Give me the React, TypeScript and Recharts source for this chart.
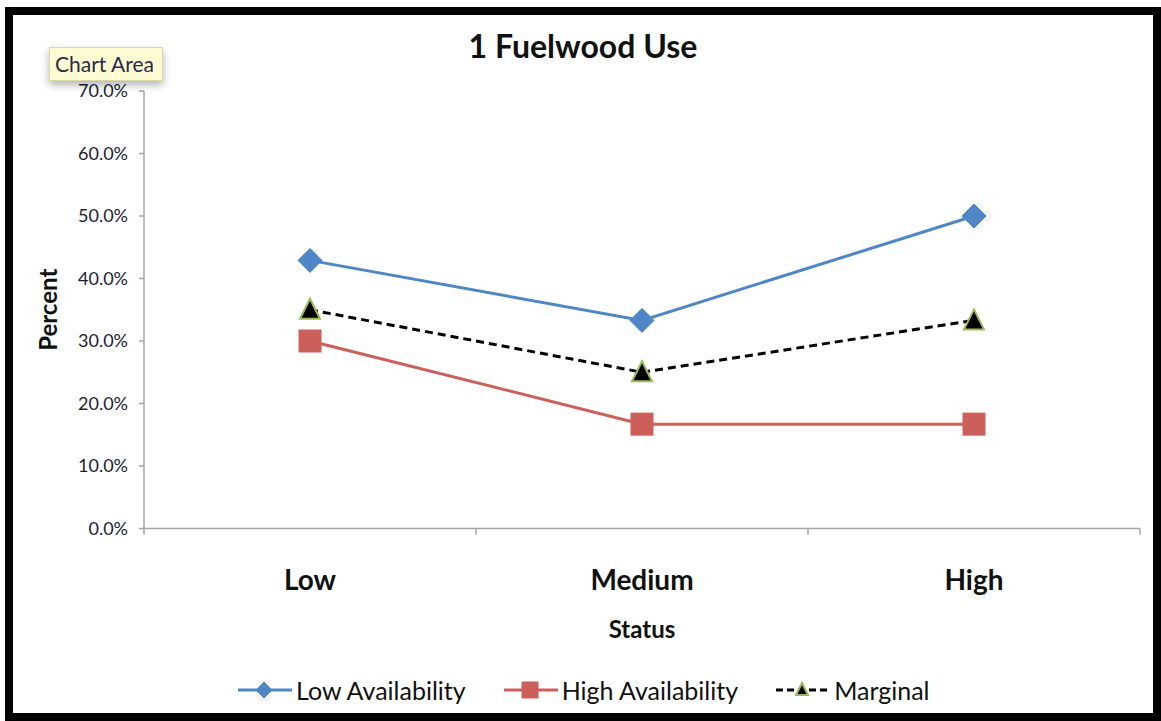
import React from 'react';
import { LineChart, Line, XAxis, YAxis } from 'recharts';

const categories = ['Low', 'Medium', 'High'];
const lowAvailability = [42.9, 33.3, 50.0];
const highAvailability = [30.0, 16.7, 16.7];
const marginal = [35.0, 25.0, 33.3];
const yTicks = [0, 10, 20, 30, 40, 50, 60, 70];

const BLUE = '#4f86c6';
const RED = '#cd5f5a';
const GREEN = '#9bbb59';
const FONT = 'Lato, "Open Sans", sans-serif';

// categories sit at band centres (i + 0.5) so the axis can tick at band edges
const data = categories.map((name, i) => ({
  pos: i + 0.5,
  name,
  low: lowAvailability[i],
  high: highAvailability[i],
  marginal: marginal[i],
}));

const xTicks = [0, 0.5, 1, 1.5, 2, 2.5, 3];

const Diamond = ({ cx, cy, s = 12 }: any) => (
  <polygon points={`${cx},${cy - s} ${cx + s},${cy} ${cx},${cy + s} ${cx - s},${cy}`} fill={BLUE} stroke={BLUE} strokeWidth={1} strokeLinejoin="round" />
);

const Square = ({ cx, cy, s = 11 }: any) => (
  <rect x={cx - s} y={cy - s} width={s * 2} height={s * 2} fill={RED} stroke={RED} strokeWidth={1} />
);

const Triangle = ({ cx, cy, s = 10 }: any) => (
  <polygon points={`${cx},${cy - s - 1} ${cx + s},${cy + s - 1} ${cx - s},${cy + s - 1}`} fill="#000" stroke={GREEN} strokeWidth={2} strokeLinejoin="miter" />
);

const XTick = ({ x, y, payload }: any) => {
  const v = payload.value;
  if (Number.isInteger(v)) {
    return <line x1={x} y1={y} x2={x} y2={y + 6} stroke="#a6a6a6" strokeWidth={1.5} />;
  }
  const label = categories[Math.floor(v)];
  return (
    <text x={x} y={y + 61} textAnchor="middle" fontFamily={FONT} fontWeight={700} fontSize={28} fill="#111">
      {label}
    </text>
  );
};

const legendItems = [
  { name: 'Low Availability', color: BLUE, dash: undefined, Marker: Diamond, size: 8 },
  { name: 'High Availability', color: RED, dash: undefined, Marker: Square, size: 8 },
  { name: 'Marginal', color: '#000', dash: '7 4', Marker: Triangle, size: 6 },
];

export default function App() {
  return (
    <div style={{ position: 'absolute', left: 0, top: 0, width: 1161, height: 721, background: '#fff', overflow: 'hidden' }}>
      {/* black frame */}
      <div style={{ position: 'absolute', left: 5, top: 7, width: 1156, height: 714, border: '8px solid #000', boxSizing: 'border-box' }} />

      <div style={{ position: 'absolute', left: 0, top: 26, width: 1166, textAlign: 'center', fontFamily: FONT, fontWeight: 700, fontSize: 32, color: '#111' }}>
        1 Fuelwood Use
      </div>

      <div style={{ position: 'absolute', left: 0, top: 0 }}>
        <LineChart width={1161} height={721} data={data} margin={{ top: 91, right: 21, bottom: 92.5, left: 0 }}>
          <YAxis
            width={144}
            domain={[0, 70]}
            ticks={yTicks}
            interval={0}
            tickFormatter={(v: number) => `${v.toFixed(1)}%`}
            tick={{ fontFamily: FONT, fontSize: 18, fill: '#1d1d33' }}
            tickSize={5}
            tickMargin={11}
            axisLine={{ stroke: '#a6a6a6', strokeWidth: 1.5 }}
            tickLine={{ stroke: '#a6a6a6', strokeWidth: 1.5 }}
            label={{
              content: ({ viewBox }: any) => (
                <text
                  x={57}
                  y={viewBox.y + viewBox.height / 2}
                  transform={`rotate(-90 57 ${viewBox.y + viewBox.height / 2})`}
                  textAnchor="middle"
                  fontFamily={FONT}
                  fontWeight={700}
                  fontSize={24}
                  fill="#111"
                >
                  Percent
                </text>
              ),
            }}
          />
          <XAxis
            dataKey="pos"
            type="number"
            domain={[0, 3]}
            ticks={xTicks}
            interval={0}
            height={100}
            tickSize={0}
            tickMargin={0}
            tickLine={false}
            tick={<XTick />}
            axisLine={{ stroke: '#a6a6a6', strokeWidth: 1.5 }}
            label={{
              content: ({ viewBox }: any) => (
                <text x={viewBox.x + viewBox.width / 2} y={viewBox.y + 109} textAnchor="middle" fontFamily={FONT} fontWeight={700} fontSize={24} fill="#111">
                  Status
                </text>
              ),
            }}
          />
          <Line dataKey="low" stroke={BLUE} strokeWidth={3} dot={<Diamond />} activeDot={false} isAnimationActive={false} />
          <Line dataKey="high" stroke={RED} strokeWidth={3} dot={<Square />} activeDot={false} isAnimationActive={false} />
          <Line dataKey="marginal" stroke="#000" strokeWidth={3} strokeDasharray="8 5" dot={<Triangle />} activeDot={false} isAnimationActive={false} />
        </LineChart>
      </div>

      {/* legend */}
      <div style={{ position: 'absolute', left: 238, top: 675, display: 'flex', alignItems: 'center', fontFamily: FONT, fontSize: 25, color: '#111' }}>
        {legendItems.map(({ name, color, dash, Marker, size }, i) => (
          <div key={name} style={{ display: 'flex', alignItems: 'center', marginRight: i < 2 ? 38 : 0 }}>
            <svg width={54} height={30} style={{ marginRight: 4 }}>
              <line x1={0} y1={15} x2={54} y2={15} stroke={color} strokeWidth={3} strokeDasharray={dash} />
              <Marker cx={26} cy={15} s={size} />
            </svg>
            <span>{name}</span>
          </div>
        ))}
      </div>

      {/* hover tip over the chart area */}
      <div
        style={{
          position: 'absolute',
          left: 49,
          top: 47,
          width: 114,
          height: 34,
          boxSizing: 'border-box',
          background: '#fdfbd2',
          border: '1px solid #dcd9a8',
          boxShadow: '0 4px 8px rgba(0,0,0,0.3)',
          fontFamily: FONT,
          fontSize: 21,
          color: '#2a2a4a',
          lineHeight: '32px',
          paddingLeft: 5,
          whiteSpace: 'nowrap',
        }}
      >
        Chart Area
      </div>
    </div>
  );
}
